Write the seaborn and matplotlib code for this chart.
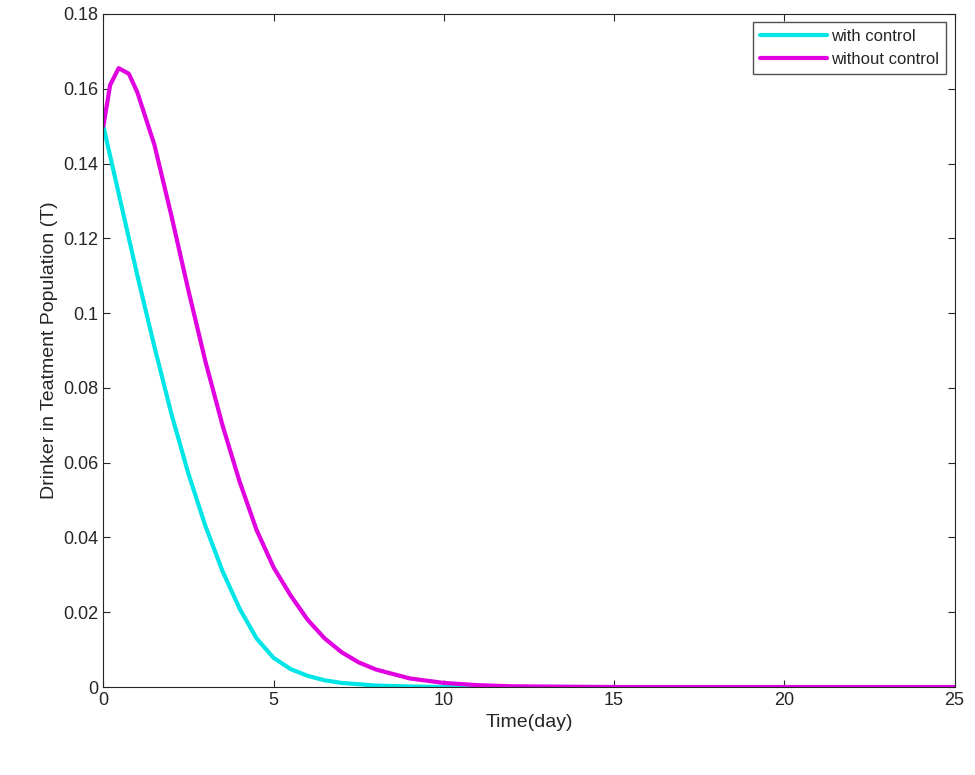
import matplotlib
matplotlib.use("Agg")
import matplotlib.pyplot as plt
import seaborn as sns
import pandas as pd

# values
time_ctrl = [0, 0.5, 1, 1.5, 2, 2.5, 3, 3.5, 4, 4.5, 5, 5.5, 6, 6.5, 7, 8, 9, 10, 12, 15, 20, 25]
with_control = [0.15, 0.13, 0.11, 0.091, 0.073, 0.057, 0.043, 0.031, 0.021, 0.013, 0.0078,
                0.0048, 0.003, 0.0018, 0.0011, 0.0004, 0.00015, 0.0, 0.0, 0.0, 0.0, 0.0]
time_noctrl = [0, 0.2, 0.45, 0.75, 1, 1.5, 2, 2.5, 3, 3.5, 4, 4.5, 5, 5.5, 6, 6.5, 7, 7.5, 8,
               9, 10, 11, 12, 15, 20, 25]
without_control = [0.15, 0.161, 0.1655, 0.164, 0.159, 0.145, 0.126, 0.106, 0.087, 0.07, 0.055,
                   0.042, 0.032, 0.0245, 0.018, 0.013, 0.0093, 0.0066, 0.0047,
                   0.0023, 0.0011, 0.0005, 0.0002, 0.0, 0.0, 0.0]

df = pd.concat([
    pd.DataFrame({"t": time_ctrl, "T": with_control, "case": "with control"}),
    pd.DataFrame({"t": time_noctrl, "T": without_control, "case": "without control"}),
])

sns.set_style("white")
plt.rcParams["font.family"] = "Liberation Sans"
fig = plt.figure(figsize=(9.75, 7.75), dpi=100)
ax = fig.add_axes([0.106, 0.1135, 0.873, 0.8685])
sns.lineplot(data=df, x="t", y="T", hue="case", palette=["#00e5e5", "#e000e0"],
             linewidth=3, ax=ax)

ax.set_xlim(0, 25)
ax.set_ylim(0, 0.18)
ax.set_xticks([0, 5, 10, 15, 20, 25])
ax.set_yticks([0, 0.02, 0.04, 0.06, 0.08, 0.1, 0.12, 0.14, 0.16, 0.18])
ax.set_yticklabels(["0", "0.02", "0.04", "0.06", "0.08", "0.1", "0.12", "0.14", "0.16", "0.18"])
ax.tick_params(labelsize=13, colors="#262626", direction="in", length=5,
               top=True, right=True, bottom=True, left=True)
for s in ax.spines.values():
    s.set_color("#262626")
    s.set_linewidth(0.8)
ax.set_xlabel("Time(day)", fontsize=14, color="#262626")
ax.set_ylabel("Drinker in Teatment Population (T)", fontsize=14, color="#262626")
leg = ax.legend(loc="upper right", fontsize=12, frameon=True, fancybox=False,
                handlelength=4, handletextpad=0.3, borderpad=0.4)
leg.get_frame().set_edgecolor("#262626")
fig.savefig("out.png", dpi=100)
